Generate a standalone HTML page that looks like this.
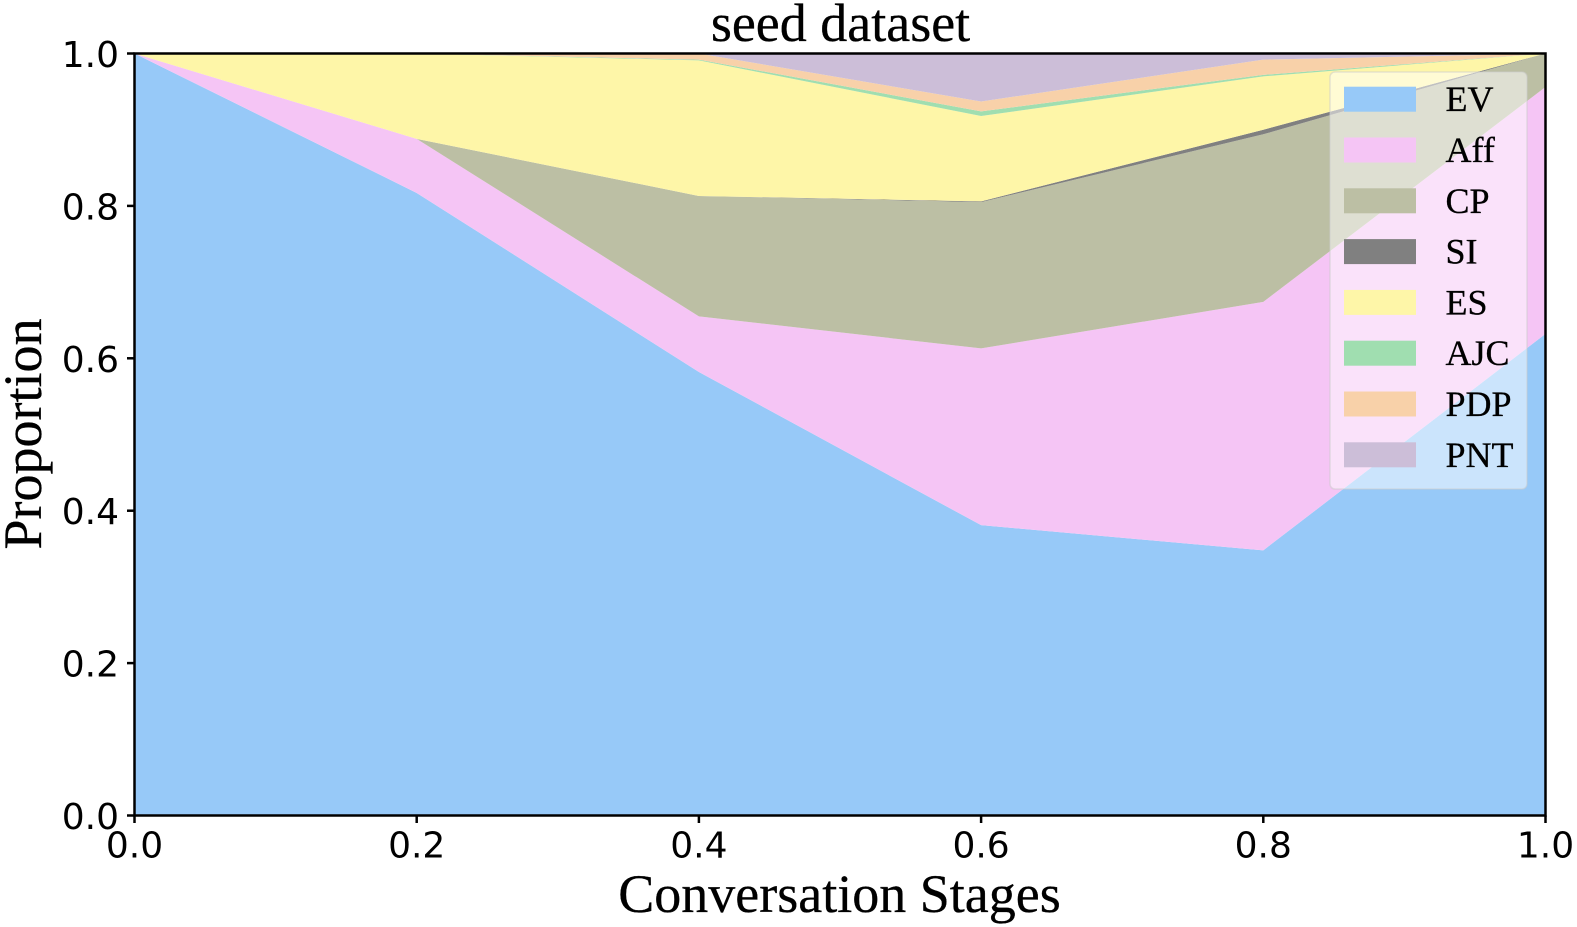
<!DOCTYPE html>
<html lang="en">
<head>
<meta charset="utf-8">
<title>seed dataset</title>
<style>
html,body{margin:0;padding:0;background:#fff;width:1577px;height:927px;overflow:hidden}
svg{display:block}
.serif{font-family:"Liberation Serif","Times New Roman",serif;fill:#000;stroke:#000;stroke-width:0.3px}
.tick{font-family:"DejaVu Sans",sans-serif;font-size:36px;fill:#000}
</style>
</head>
<body>
<svg id="chart" xmlns="http://www.w3.org/2000/svg" width="1577" height="927" viewBox="0 0 1577 927">
  <rect width="1577" height="927" fill="#ffffff"/>
  <g id="areas"></g>
  <rect id="frame" fill="none" stroke="#000000" stroke-width="2.5"/>
  <g id="xticks"></g>
  <g id="yticks"></g>
  <text class="serif" x="840.5" y="41" font-size="54" text-anchor="middle">seed dataset</text>
  <text class="serif" x="839.5" y="912" font-size="54" text-anchor="middle">Conversation Stages</text>
  <text class="serif" transform="translate(41 434) rotate(-90)" font-size="54" text-anchor="middle">Proportion</text>
  <g id="legend">
    <rect x="1330" y="72" width="197" height="417" rx="5" ry="5" fill="#ffffff" fill-opacity="0.5" stroke="#cccccc" stroke-opacity="0.5" stroke-width="1.5"/>
  </g>
</svg>
<script>
const stages = [0, 0.2, 0.4, 0.6, 0.8, 1.0];
const seriesNames = ["EV", "Aff", "CP", "SI", "ES", "AJC", "PDP", "PNT"];
const seriesColors = ["#97c9f8", "#f5c5f5", "#bcbfa4", "#808080", "#fef6a8", "#a0deb0", "#f8d1a9", "#ccbed8"];
const evValues = [1.0, 0.817, 0.582, 0.381, 0.348, 0.632];
const affValues = [0, 0.071, 0.073, 0.232, 0.326, 0.324];
const cpValues = [0, 0, 0.158, 0.192, 0.220, 0.044];
const siValues = [0, 0, 0, 0.001, 0.006, 0];
const esValues = [0, 0.112, 0.178, 0.112, 0.070, 0];
const ajcValues = [0, 0, 0.001, 0.006, 0.002, 0];
const pdpValues = [0, 0, 0.008, 0.013, 0.020, 0];
const pntValues = [0, 0, 0, 0.063, 0.008, 0];
const xTickValues = [0, 0.2, 0.4, 0.6, 0.8, 1.0];
const yTickValues = [0, 0.2, 0.4, 0.6, 0.8, 1.0];
const allSeries = [evValues, affValues, cpValues, siValues, esValues, ajcValues, pdpValues, pntValues];

const NS = "http://www.w3.org/2000/svg";
const plot = {left: 134.5, right: 1545.5, top: 53.5, bottom: 815.5};
function xScale(v) { return plot.left + v * (plot.right - plot.left); }
function yScale(v) { return plot.bottom - v * (plot.bottom - plot.top); }

const frame = document.getElementById("frame");
frame.setAttribute("x", plot.left);
frame.setAttribute("y", plot.top);
frame.setAttribute("width", plot.right - plot.left);
frame.setAttribute("height", plot.bottom - plot.top);

const areas = document.getElementById("areas");
let baseline = stages.map(function () { return 0; });
allSeries.forEach(function (values, s) {
  const top = values.map(function (v, i) { return baseline[i] + v; });
  const upper = stages.map(function (t, i) { return xScale(t).toFixed(2) + "," + yScale(top[i]).toFixed(2); });
  const lower = stages.map(function (t, i) { return xScale(t).toFixed(2) + "," + yScale(baseline[i]).toFixed(2); }).reverse();
  const poly = document.createElementNS(NS, "polygon");
  poly.setAttribute("points", upper.concat(lower).join(" "));
  poly.setAttribute("fill", seriesColors[s]);
  
  
  areas.appendChild(poly);
  baseline = top;
});

const xticks = document.getElementById("xticks");
xTickValues.forEach(function (v) {
  const px = xScale(v);
  const mark = document.createElementNS(NS, "line");
  mark.setAttribute("x1", px);
  mark.setAttribute("x2", px);
  mark.setAttribute("y1", plot.bottom);
  mark.setAttribute("y2", plot.bottom + 7.5);
  mark.setAttribute("stroke", "#000000");
  mark.setAttribute("stroke-width", "2.5");
  
  
  xticks.appendChild(mark);
  const label = document.createElementNS(NS, "text");
  label.setAttribute("x", px);
  label.setAttribute("y", 857.5);
  label.setAttribute("text-anchor", "middle");
  label.setAttribute("class", "tick");
  label.textContent = v.toFixed(1);
  
  
  xticks.appendChild(label);
});

const yticks = document.getElementById("yticks");
yTickValues.forEach(function (v) {
  const py = yScale(v);
  const mark = document.createElementNS(NS, "line");
  mark.setAttribute("x1", plot.left - 7.5);
  mark.setAttribute("x2", plot.left);
  mark.setAttribute("y1", py);
  mark.setAttribute("y2", py);
  mark.setAttribute("stroke", "#000000");
  mark.setAttribute("stroke-width", "2.5");
  
  
  yticks.appendChild(mark);
  const label = document.createElementNS(NS, "text");
  label.setAttribute("x", 119);
  label.setAttribute("y", py + 13.5);
  label.setAttribute("text-anchor", "end");
  label.setAttribute("class", "tick");
  label.textContent = v.toFixed(1);
  
  
  yticks.appendChild(label);
});

const legend = document.getElementById("legend");
seriesNames.forEach(function (name, i) {
  const rowTop = 86.7 + i * 50.8;
  const swatch = document.createElementNS(NS, "rect");
  swatch.setAttribute("x", 1344);
  swatch.setAttribute("y", rowTop);
  swatch.setAttribute("width", 72);
  swatch.setAttribute("height", 25);
  swatch.setAttribute("fill", seriesColors[i]);
  
  
  legend.appendChild(swatch);
  const text = document.createElementNS(NS, "text");
  text.setAttribute("x", 1445.5);
  text.setAttribute("y", rowTop + 24.5);
  text.setAttribute("font-size", "36");
  text.setAttribute("class", "serif");
  text.textContent = name;
  
  
  legend.appendChild(text);
});
</script>
</body>
</html>
